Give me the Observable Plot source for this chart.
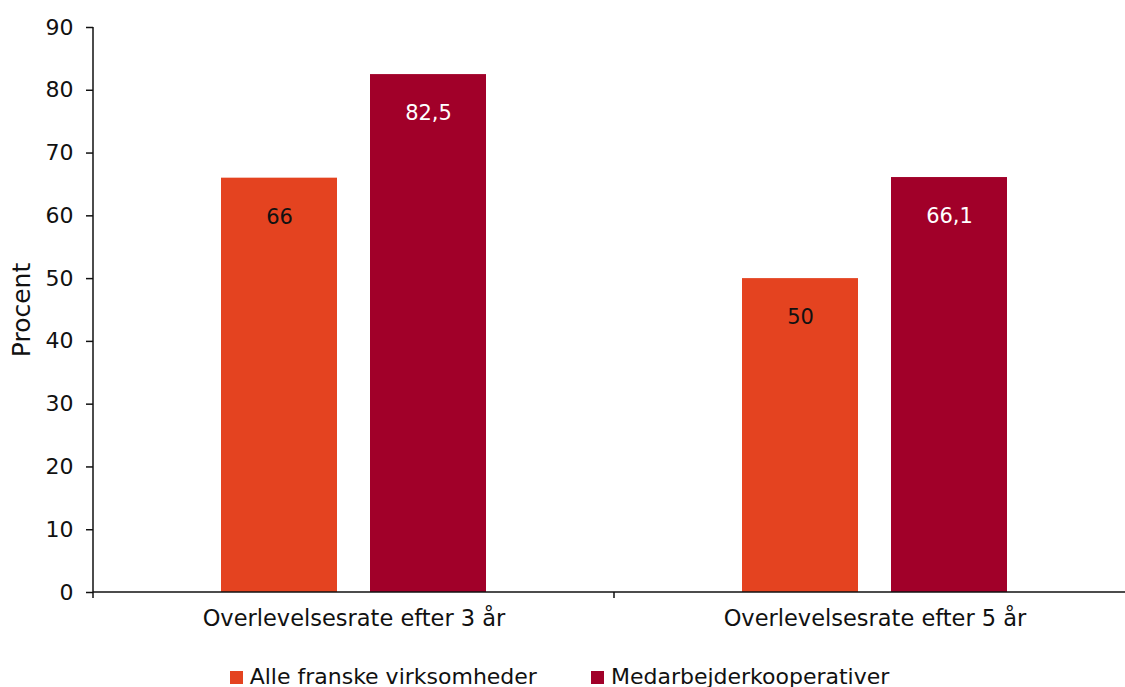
<!DOCTYPE html>
<html>
<head>
<meta charset="utf-8">
<script src="https://cdn.jsdelivr.net/npm/d3@7"></script>
<script src="https://cdn.jsdelivr.net/npm/@observablehq/plot@0.6"></script>
<style>
  html, body { margin: 0; padding: 0; background: #fff; }
  body { width: 1125px; height: 687px; overflow: hidden; font-family: "DejaVu Sans", sans-serif; color: #111; }
  #legend { display: flex; justify-content: center; gap: 54px; font-size: 22px; line-height: 26px; margin-left: -6px; margin-top: 2px; }
  #legend .item { display: flex; align-items: center; gap: 7px; }
  #legend .sw { width: 13px; height: 13px; display: inline-block; }
</style>
</head>
<body>
<div id="chart"></div>
<div id="legend"></div>
<script>
const categories = ["Overlevelsesrate efter 3 år", "Overlevelsesrate efter 5 år"];
const series = ["Alle franske virksomheder", "Medarbejderkooperativer"];
const alleFranske = [66, 50];
const medarbejder = [82.5, 66.1];
const yTicks = [0, 10, 20, 30, 40, 50, 60, 70, 80, 90];
const yLabel = "Procent";
const colors = ["#E44320", "#A10029"];
const labelColors = ["#111111", "#ffffff"];

const values = [alleFranske, medarbejder];
const data = categories.flatMap((c, i) => series.map((s, j) => ({category: c, series: s, value: values[j][i]})));
const fmt = v => String(v).replace(".", ",");

const chart = Plot.plot({
  width: 1125,
  height: 662,
  marginLeft: 93,
  marginRight: 0,
  marginTop: 27,
  marginBottom: 70,
  style: {fontFamily: "DejaVu Sans, sans-serif", fontSize: "22px", color: "#111", overflow: "visible"},
  fx: {domain: categories, range: [93, 1135], padding: 0, label: null},
  x: {domain: series, paddingInner: 0.2215, paddingOuter: 0.859, axis: null},
  y: {domain: [0, 90], label: yLabel},
  color: {domain: series, range: colors},
  marks: [
    Plot.barY(data, {fx: "category", x: "series", y: "value", fill: "series"}),
    ...series.map((s, j) => Plot.text(data.filter(d => d.series === s), {
      fx: "category", x: "series", y: "value", text: d => fmt(d.value),
      fill: labelColors[j], dy: 39, fontSize: 21
    })),
    Plot.axisY({ticks: yTicks, tickSize: 7, tickPadding: 13, strokeWidth: 1.5, fontSize: 22,
      label: yLabel, labelAnchor: "center", labelArrow: "none", labelOffset: 81}),
    Plot.axisFx({anchor: "bottom", tickSize: 0, tickPadding: 18, fontSize: 22.5, label: null})
  ]
});
document.getElementById("chart").appendChild(chart);

// enlarge the y-axis label text
d3.select(chart).selectAll("text").filter(function() { return this.textContent === yLabel; })
  .attr("font-size", 25).style("font-size", "25px");

// axis lines and category boundary ticks from the plot's own scales
const fxS = chart.scale("fx");
const yS = chart.scale("y");
const lefts = categories.map(c => fxS.apply(c));
const rightEnd = lefts[lefts.length - 1] + fxS.bandwidth;
const y0 = yS.apply(0), yTop = yS.apply(90);
const g = d3.select(chart).append("g").attr("stroke", "#111").attr("stroke-width", 1.5).attr("fill", "none");
g.append("line").attr("x1", lefts[0]).attr("x2", lefts[0]).attr("y1", yTop).attr("y2", y0 + 6);
g.append("line").attr("x1", lefts[0]).attr("x2", rightEnd).attr("y1", y0).attr("y2", y0);
[...lefts.slice(1), rightEnd].forEach(x => g.append("line").attr("x1", x).attr("x2", x).attr("y1", y0).attr("y2", y0 + 6));

const legend = d3.select("#legend");
series.forEach((s, j) => {
  const it = legend.append("div").attr("class", "item");
  it.append("span").attr("class", "sw").style("background", colors[j]);
  it.append("span").text(s);
});
</script>
</body>
</html>
